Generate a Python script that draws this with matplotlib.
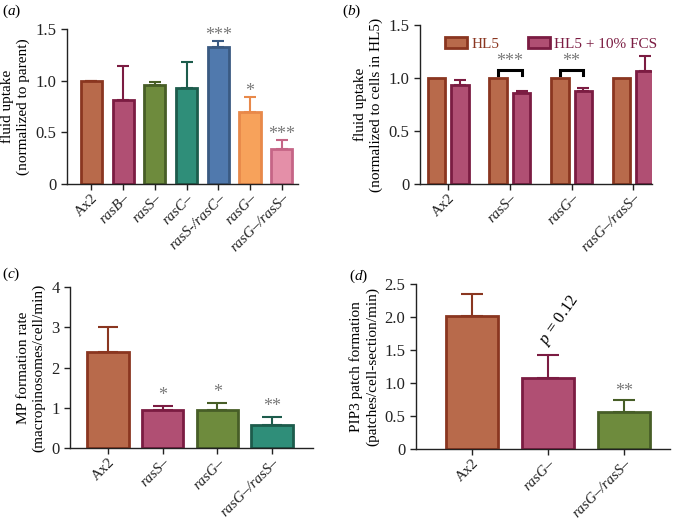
import numpy as np
import matplotlib
matplotlib.use('Agg')
import matplotlib.pyplot as plt
from matplotlib.patches import Patch

plt.rcParams['font.family'] = 'Liberation Serif'
plt.rcParams['mathtext.fontset'] = 'custom'
plt.rcParams['mathtext.rm'] = 'Liberation Serif'
plt.rcParams['mathtext.it'] = 'Liberation Serif:italic'
plt.rcParams['font.size'] = 11

# colours (face, edge)
brown = ('#B86A4B', '#8A3620')
magenta = ('#B04F73', '#7B1C42')
green = ('#6E8B3D', '#475E27')
teal = ('#2F8E79', '#1D5C4C')
blue = ('#5079AD', '#3A5A82')
orange = ('#F7A25B', '#E8894A')
pink = ('#E48FA8', '#C56586')

# panel a
a_labels = ['Ax2', 'rasB–', 'rasS–', 'rasC–', 'rasS-/rasC–', 'rasG–', 'rasG–/rasS–']
a_vals = [1.0, 0.81, 0.96, 0.93, 1.33, 0.70, 0.34]
a_err = [0.0, 0.33, 0.03, 0.25, 0.05, 0.14, 0.09]
a_stars = ['', '', '', '', '***', '*', '***']
a_cols = [brown, magenta, green, teal, blue, orange, pink]

# panel b
b_labels = ['Ax2', 'rasS–', 'rasG–', 'rasG–/rasS–']
b_hl5 = [1.0, 1.0, 1.0, 1.0]
b_fcs = [0.93, 0.86, 0.88, 1.07]
b_fcs_err = [0.05, 0.02, 0.03, 0.14]
b_sig = {1: '***', 2: '**'}

# panel c
c_labels = ['Ax2', 'rasS–', 'rasG–', 'rasG–/rasS–']
c_vals = [2.38, 0.95, 0.95, 0.57]
c_err = [0.62, 0.10, 0.17, 0.21]
c_stars = ['', '*', '*', '**']
c_cols = [brown, magenta, green, teal]

# panel d
d_labels = ['Ax2', 'rasG–', 'rasG–/rasS–']
d_vals = [2.01, 1.08, 0.57]
d_err = [0.34, 0.34, 0.17]
d_stars = ['', '', '**']
d_cols = [brown, magenta, green]

star_col = '#7a7a7a'


def style_axes(ax):
    ax.spines['top'].set_visible(False)
    ax.spines['right'].set_visible(False)
    for s in ('left', 'bottom'):
        ax.spines[s].set_linewidth(1.0)
        ax.spines[s].set_color('#222222')
    ax.tick_params(direction='out', length=4, width=1.0, colors='#222222')
    ax.tick_params(axis='y', labelsize=12)
    ax.tick_params(axis='x', pad=1.5)


def set_xlabels(ax, x, labels, fs=10.8):
    ax.set_xticks(x)
    ax.set_xticklabels(labels, rotation=45, ha='right', rotation_mode='anchor', fontsize=fs)
    for t in ax.get_xticklabels():
        if t.get_text() != 'Ax2':
            t.set_fontstyle('italic')


def bars(ax, x, vals, err, cols, width, capsize, stars=None, star_off=0.02):
    for i in range(len(x)):
        face, edge = cols[i]
        ax.errorbar(x[i], vals[i], yerr=[[0], [err[i]]], fmt='none', ecolor=edge,
                    elinewidth=1.5, capsize=capsize, capthick=1.5, zorder=1)
        ax.bar(x[i], vals[i], width, color=face, edgecolor=edge, linewidth=2, zorder=2)
        if stars and stars[i]:
            ax.text(x[i], vals[i] + err[i] + star_off, stars[i], ha='center', va='bottom',
                    color=star_col, fontsize=13)


fig = plt.figure(figsize=(6.74, 5.22), dpi=100)

# (a)
ax = fig.add_axes([0.0994, 0.6475, 0.3426, 0.297])
x = np.arange(len(a_vals))
bars(ax, x, a_vals, a_err, a_cols, 0.67, 4.5, a_stars, -0.03)
ax.set_xlim(-0.77, 6.51)
ax.set_ylim(0, 1.5)
ax.set_yticks([0, 0.5, 1.0, 1.5])
ax.set_yticklabels(['0', '0.5', '1.0', '1.5'])
ax.set_ylabel('fluid uptake\n(normalized to parent)', fontsize=11)
style_axes(ax)
set_xlabels(ax, x, a_labels)

# (b)
ax = fig.add_axes([0.623, 0.6475, 0.344, 0.3046])
x = np.arange(len(b_hl5))
off = 0.19
w = 0.284
for i in range(len(x)):
    ax.bar(x[i] - off, b_hl5[i], w, color=brown[0], edgecolor=brown[1], linewidth=2, zorder=2)
    ax.errorbar(x[i] + off, b_fcs[i], yerr=[[0], [b_fcs_err[i]]], fmt='none', ecolor=magenta[1],
                elinewidth=1.5, capsize=4, capthick=1.5, zorder=1)
    ax.bar(x[i] + off, b_fcs[i], w, color=magenta[0], edgecolor=magenta[1], linewidth=2, zorder=2)
for i, s in b_sig.items():
    ax.plot([x[i] - off, x[i] - off, x[i] + off, x[i] + off], [1.03, 1.08, 1.08, 1.03],
            color='black', lw=2.2, solid_joinstyle='miter')
    ax.text(x[i], 1.08, s, ha='center', va='bottom', color=star_col, fontsize=13)
ax.set_xlim(-0.46, 3.30)
ax.set_ylim(0, 1.5)
ax.set_yticks([0, 0.5, 1.0, 1.5])
ax.set_yticklabels(['0', '0.5', '1.0', '1.5'])
ax.set_ylabel('fluid uptake\n(normalized to cells in HL5)', fontsize=11)
style_axes(ax)
set_xlabels(ax, x, b_labels)
handles = [Patch(facecolor=brown[0], edgecolor=brown[1], linewidth=2),
           Patch(facecolor=magenta[0], edgecolor=magenta[1], linewidth=2)]
leg = ax.legend(handles, ['HL5', 'HL5 + 10% FCS'], loc='upper left', bbox_to_anchor=(0.07, 0.98),
                ncol=2, frameon=False, fontsize=11, handlelength=1.4, handleheight=0.7,
                handletextpad=0.3, columnspacing=1.9, borderaxespad=0.2,
                labelcolor=[brown[1], magenta[1]])

# (c)
ax = fig.add_axes([0.104, 0.141, 0.360, 0.309])
x = np.arange(len(c_vals))
bars(ax, x, c_vals, c_err, c_cols, 0.76, 7.5, c_stars, 0.05)
ax.set_xlim(-0.69, 3.74)
ax.set_ylim(0, 4)
ax.set_yticks([0, 1, 2, 3, 4])
ax.set_ylabel('MP formation rate\n(macropinosomes/cell/min)', fontsize=11)
style_axes(ax)
set_xlabels(ax, x, c_labels)

# (d)
ax = fig.add_axes([0.617, 0.139, 0.377, 0.317])
x = np.arange(len(d_vals))
bars(ax, x, d_vals, d_err, d_cols, 0.68, 8, d_stars, 0.0)
ax.text(x[1] + 0.03, d_vals[1] + d_err[1] + 0.1, '$p$ = 0.12', rotation=55, ha='left',
        va='bottom', fontsize=12, rotation_mode='anchor')
ax.set_xlim(-0.74, 2.6)
ax.set_ylim(0, 2.5)
ax.set_yticks([0, 0.5, 1.0, 1.5, 2.0, 2.5])
ax.set_yticklabels(['0', '0.5', '1.0', '1.5', '2.0', '2.5'])
ax.set_ylabel('PIP3 patch formation\n(patches/cell-section/min)', fontsize=11)
style_axes(ax)
set_xlabels(ax, x, d_labels)

# panel letters
fig.text(0.003, 0.978, '($\\mathit{a}$)', fontsize=11, va='center')
fig.text(0.508, 0.978, '($\\mathit{b}$)', fontsize=11, va='center')
fig.text(0.003, 0.475, '($\\mathit{c}$)', fontsize=11, va='center')
fig.text(0.518, 0.471, '($\\mathit{d}$)', fontsize=11, va='center')

fig.savefig('out.png', dpi=100)
